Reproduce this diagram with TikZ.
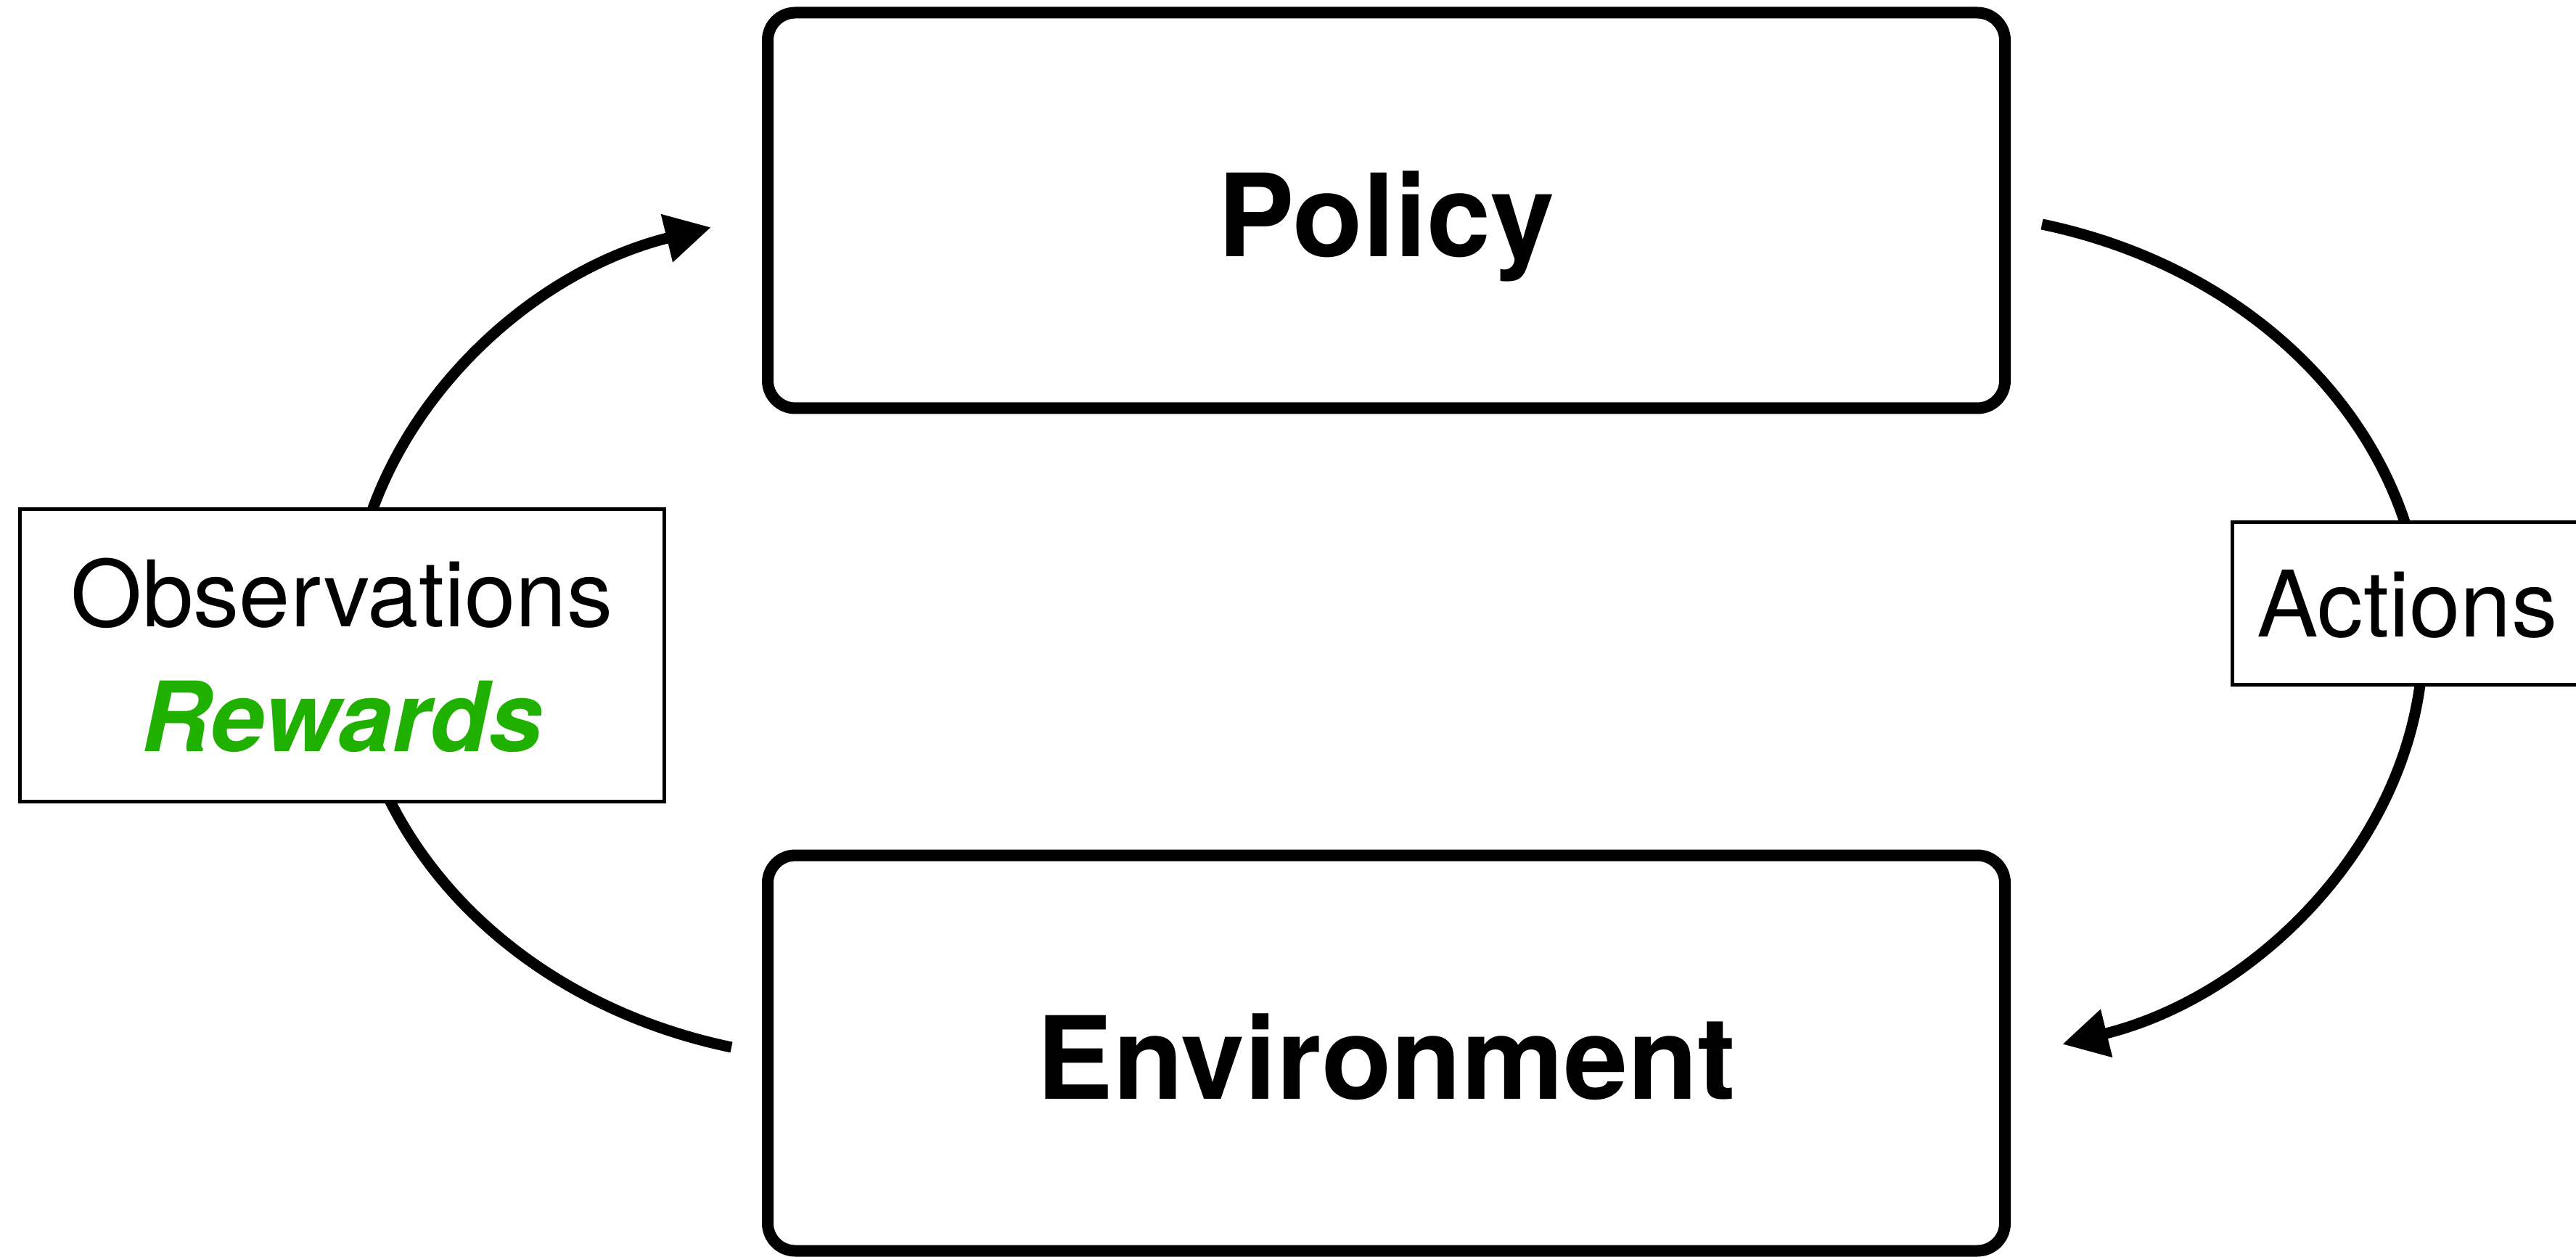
\documentclass[tikz,border=0pt]{standalone}
\usepackage{fontspec}
\setmainfont{TeX Gyre Heros}
\usetikzlibrary{arrows.meta}
\definecolor{rewgreen}{RGB}{32,176,0}

\begin{document}
\begin{tikzpicture}[
    mainbox/.style={draw, line width=1.6mm, rounded corners=3.8mm, minimum width=17.05cm, minimum height=5.45cm,
      text height=40pt, text depth=3.6pt, font=\fontsize{45}{54}\selectfont\bfseries},
    labelbox/.style={draw, fill=white, line width=0.5mm, font=\fontsize{36}{49}\selectfont},
    cycarrow/.style={line width=1.5mm, -{Triangle[length=6.3mm, width=6.4mm]}}]
  \useasboundingbox (0,0) rectangle (35.5,17.31);
  \node[mainbox] (pol) at (19.105,14.41) {Policy};
  \node[mainbox] (env) at (19.105,2.80) {Environment};
  % elliptic loop arcs
  \draw[cycarrow] ([xshift=-4.2mm, yshift=0.8mm]env.west) arc[start angle=256.2, end angle=106.2, x radius=6.9cm, y radius=5.85cm];
  \draw[cycarrow] ([xshift=4.3mm, yshift=-1.9mm]pol.east) arc[start angle=76.2, end angle=-73.8, x radius=6.9cm, y radius=5.85cm];
  \node[labelbox, align=center, minimum width=8.88cm, minimum height=4.03cm] (obs) at (4.71,8.28)
    {Observations\\\textcolor{rewgreen}{\fontsize{38}{49}\selectfont\bfseries\itshape Rewards}};
  \node[labelbox, anchor=west, minimum height=2.24cm, inner xsep=3.4mm] (act) at (30.74,8.99) {Actions};
\end{tikzpicture}
\end{document}
